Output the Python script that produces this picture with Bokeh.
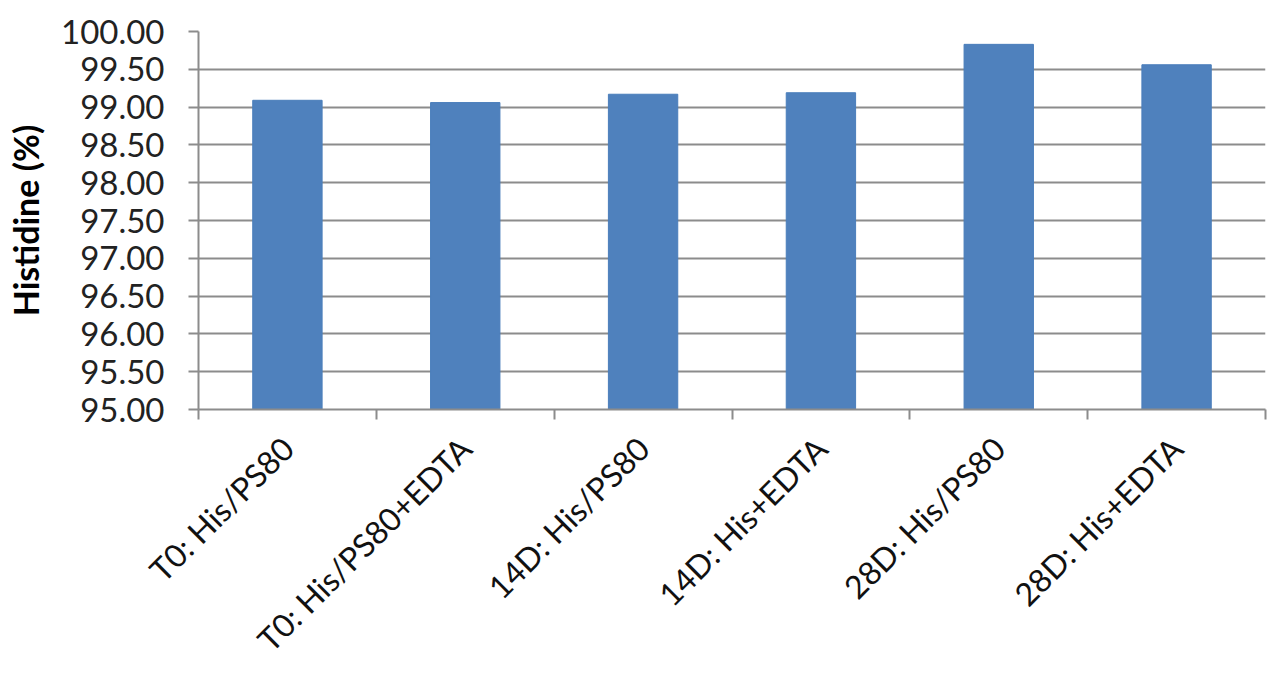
from math import pi
from bokeh.plotting import figure
from bokeh.models import Range1d, FixedTicker, NumeralTickFormatter, ColumnDataSource
from bokeh.embed import file_html
from bokeh.resources import INLINE

categories = ["T0: His/PS80", "T0: His/PS80+EDTA", "14D: His/PS80",
              "14D: His+EDTA", "28D: His/PS80", "28D: His+EDTA"]
values = [99.09, 99.06, 99.17, 99.19, 99.83, 99.56]
y_ticks = [95.0, 95.5, 96.0, 96.5, 97.0, 97.5, 98.0, 98.5, 99.0, 99.5, 100.0]
y_min, y_max = 95.0, 100.0

centers = [i + 0.5 for i in range(len(categories))]
bounds = [float(i) for i in range(len(categories) + 1)]

src = ColumnDataSource(dict(x=centers, top=values, cat=categories))

p = figure(width=1270, height=675, output_backend="svg", toolbar_location=None,
           x_range=Range1d(0, len(categories)), y_range=Range1d(y_min, y_max),
           min_border_left=198, min_border_right=5, min_border_top=31,
           min_border_bottom=265)
p.outline_line_color = None
p.background_fill_color = "white"

p.vbar(x="x", top="top", bottom=y_min, width=0.39, source=src,
       fill_color="#4F81BD", line_color="#4A7EBB", line_width=1)

grid = "#8C8C8C"
# y axis
p.yaxis.ticker = FixedTicker(ticks=y_ticks)
p.yaxis.formatter = NumeralTickFormatter(format="0.00")
p.yaxis.axis_line_color = grid
p.yaxis.axis_line_width = 2
p.yaxis.major_tick_line_color = grid
p.yaxis.major_tick_line_width = 2
p.yaxis.major_tick_out = 10
p.yaxis.major_tick_in = 0
p.yaxis.minor_tick_line_color = None
p.yaxis.major_label_text_font = "Lato"
p.yaxis.major_label_text_font_size = "33px"
p.yaxis.major_label_text_color = "#222222"
p.yaxis.major_label_standoff = 24
p.yaxis.axis_label = "Histidine (%)"
p.yaxis.axis_label_text_font = "Lato"
p.yaxis.axis_label_text_font_style = "bold"
p.yaxis.axis_label_text_font_size = "34px"
p.yaxis.axis_label_text_color = "black"
p.yaxis.axis_label_standoff = 12

# x axis: labels at category centres, tick marks at category boundaries
p.xaxis.ticker = FixedTicker(ticks=centers, minor_ticks=bounds)
p.xaxis.major_label_overrides = {c: lab for c, lab in zip(centers, categories)}
p.xaxis.axis_line_color = grid
p.xaxis.axis_line_width = 2
p.xaxis.major_tick_line_color = None
p.xaxis.major_tick_out = 0
p.xaxis.major_tick_in = 0
p.xaxis.minor_tick_line_color = grid
p.xaxis.minor_tick_line_width = 2
p.xaxis.minor_tick_out = 10
p.xaxis.minor_tick_in = 0
p.xaxis.major_label_orientation = pi / 4
p.xaxis.major_label_text_font = "Lato"
p.xaxis.major_label_text_font_size = "32px"
p.xaxis.major_label_text_color = "#111111"
p.xaxis.major_label_standoff = 23

p.xgrid.grid_line_color = None
p.ygrid.grid_line_color = grid
p.ygrid.grid_line_width = 2

open("out.html", "w").write(file_html(p, INLINE))
